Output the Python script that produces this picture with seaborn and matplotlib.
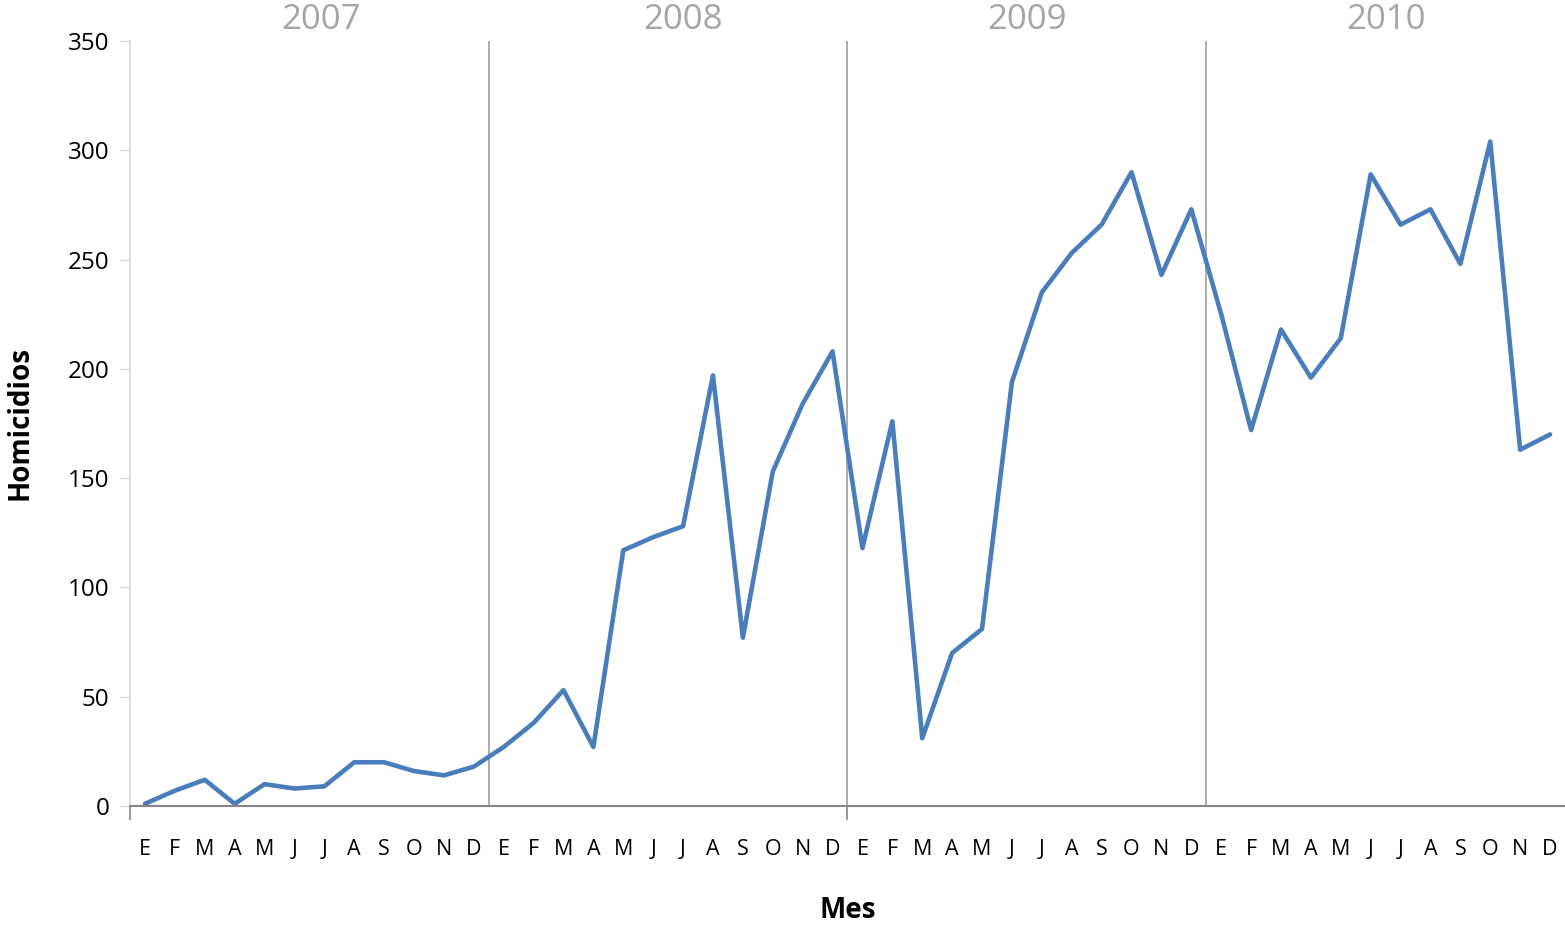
import matplotlib
matplotlib.use('Agg')
import matplotlib.pyplot as plt
import seaborn as sns
import pandas as pd

years = ['2007', '2008', '2009', '2010']
year_label_pos = [5.9, 18.0, 29.5, 41.5]
months = ['E', 'F', 'M', 'A', 'M', 'J', 'J', 'A', 'S', 'O', 'N', 'D']
homicidios_2007 = [1, 7, 12, 1, 10, 8, 9, 20, 20, 16, 14, 18]
homicidios_2008 = [27, 38, 53, 27, 117, 123, 128, 197, 77, 153, 184, 208]
homicidios_2009 = [118, 176, 31, 70, 81, 194, 235, 253, 266, 290, 243, 273]
homicidios_2010 = [225, 172, 218, 196, 214, 289, 266, 273, 248, 304, 163, 170]
y_ticks = [0, 50, 100, 150, 200, 250, 300, 350]

values = homicidios_2007 + homicidios_2008 + homicidios_2009 + homicidios_2010
df = pd.DataFrame({'idx': range(len(values)), 'homicidios': values})

sns.set_style('white')
plt.rcParams['font.family'] = ['Open Sans', 'DejaVu Sans']
plt.rcParams['text.color'] = 'black'
plt.rcParams['xtick.labelcolor'] = 'black'
plt.rcParams['ytick.labelcolor'] = 'black'
plt.rcParams['axes.labelcolor'] = 'black'

fig = plt.figure(figsize=(15.65, 9.26), dpi=100)
ax = fig.add_axes([130 / 1565, 1 - 806 / 926, (1565 - 130) / 1565, (806 - 41) / 926])

sns.lineplot(data=df, x='idx', y='homicidios', ax=ax, color='#4a7ebb', linewidth=3.3)

# separadores de año
for i in range(1, len(years)):
    ax.axvline(i * 12 - 0.5, color='#a6a6a6', linewidth=1.3, zorder=0)

ax.set_xlim(-0.5, len(values) - 0.5)
ax.set_ylim(0, 350)
ax.set_yticks(y_ticks)
ax.set_xticks(range(len(values)))
ax.set_xticklabels(months * len(years))
ax.set_xticks([-0.5, 23.5], minor=True)

ax.tick_params(axis='y', left=True, length=7, width=1, color='#d9d9d9', labelsize=17.5, pad=8)
ax.tick_params(axis='x', which='major', bottom=False, labelsize=15.5, pad=20)
ax.tick_params(axis='x', which='minor', bottom=True, length=10, width=1.2, color='#868686')

for sp in ['top', 'right']:
    ax.spines[sp].set_visible(False)
ax.spines['left'].set_color('#d9d9d9')
ax.spines['left'].set_linewidth(1.2)
ax.spines['bottom'].set_color('#868686')
ax.spines['bottom'].set_linewidth(1.5)

for pos, yr in zip(year_label_pos, years):
    ax.text(pos, 1.027, yr, transform=ax.get_xaxis_transform(),
            ha='center', va='center', fontsize=25, color='#a6a6a6')

ax.set_xlabel('Mes', fontsize=20, fontweight='bold', labelpad=26)
ax.set_ylabel('Homicidios', fontsize=20, fontweight='bold', labelpad=24)

plt.savefig('out.png', dpi=100)
plt.close()
